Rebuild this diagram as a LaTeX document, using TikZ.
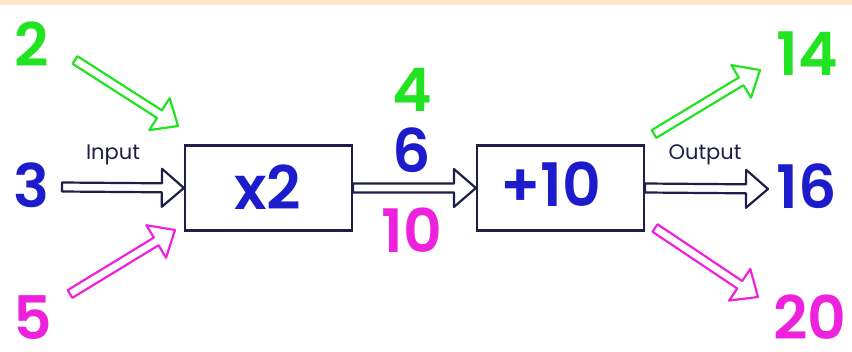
\documentclass[tikz,border=0pt]{standalone}
\usepackage{fontspec}
\setmainfont{Poppins}[BoldFont={Poppins SemiBold}]
\usetikzlibrary{calc}
\definecolor{ngreen}{HTML}{22E322}
\definecolor{nblue}{HTML}{1C1CCC}
\definecolor{nmag}{HTML}{EE22DD}
\definecolor{navy}{HTML}{1E1E48}
\definecolor{peach}{HTML}{FFE5CA}
% hollow block arrow from #2 to #3, outlined in colour #1
\newcommand\blockarrow[3]{%
  \coordinate (bahead) at ($(#3)!22pt!(#2)$);
  \draw[#1, line width=2.2pt, fill=white, line join=round]
    ($(#2)!4.5pt!90:(#3)$) -- ($(bahead)!4.5pt!90:(#3)$) --
    ($(bahead)!19pt!90:(#3)$) -- (#3) --
    ($(bahead)!19pt!-90:(#3)$) -- ($(bahead)!4.5pt!-90:(#3)$) --
    ($(#2)!4.5pt!-90:(#3)$) -- cycle;
}
\begin{document}
\begin{tikzpicture}[x=1pt, y=-1pt,
  num/.style={inner sep=0pt, font=\fontsize{60}{60}\selectfont\bfseries},
  lbl/.style={inner sep=0pt, text=navy, font=\fontsize{21}{21}\selectfont},
  machine/.style={draw=navy, line width=2.2pt, minimum width=167pt, minimum height=85pt, inner sep=0pt}]
  \useasboundingbox (0,0) rectangle (852,351);
  \fill[white] (0,0) rectangle (852,351);
  \fill[peach] (0,0) rectangle (852,5);

  % the two function machines
  \node[machine] (times) at (268.5,188) {};
  \node[machine] (plus) at (560.5,188) {};
  \node[num, text=nblue] (timeslbl) at (268,187) {x2};
  \node[num, text=nblue] (pluslbl) at (551,184) {+10};

  % inputs
  \node[num, text=ngreen] (in2) at (32,44) {2};
  \node[num, text=nblue] (in3) at (31,185) {3};
  \node[num, text=nmag] (in5) at (33,318) {5};

  % values between the machines
  \node[num, text=ngreen] (mid4) at (412,90) {4};
  \node[num, text=nblue] (mid6) at (412,150) {6};
  \node[num, text=nmag] (mid10) at (412,230) {10};

  % outputs
  \node[num, text=ngreen] (out14) at (807,54) {14};
  \node[num, text=nblue] (out16) at (807,186) {16};
  \node[num, text=nmag] (out20) at (810,317) {20};

  \node[lbl] (input) at (113,155) {Input};
  \node[lbl] (output) at (705,155) {Output};

  % arrow end points
  \coordinate (g1a) at (75,60);
  \coordinate (g1b) at (178,126);
  \coordinate (b1a) at (62,187);
  \coordinate (m1a) at (70,294);
  \coordinate (m1b) at (175,230);
  \coordinate (g2a) at (654,134);
  \coordinate (g2b) at (760,70);
  \coordinate (b2b) at (768,189);
  \coordinate (m2a) at (655,228);
  \coordinate (m2b) at (758,297);

  \blockarrow{ngreen}{g1a}{g1b}
  \blockarrow{navy}{b1a}{times.west}
  \blockarrow{nmag}{m1a}{m1b}
  \blockarrow{navy}{times.east}{plus.west}
  \blockarrow{ngreen}{g2a}{g2b}
  \blockarrow{navy}{plus.east}{b2b}
  \blockarrow{nmag}{m2a}{m2b}
\end{tikzpicture}
\end{document}
